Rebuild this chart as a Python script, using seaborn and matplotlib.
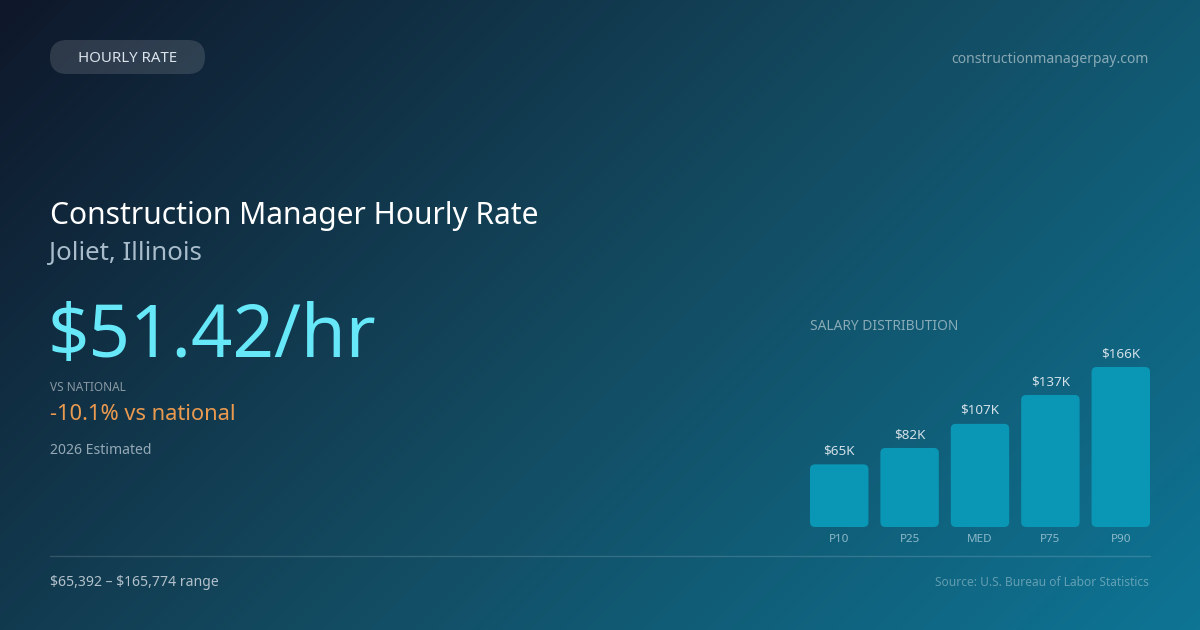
import numpy as np
import pandas as pd
import matplotlib
matplotlib.use("Agg")
import matplotlib.pyplot as plt
from matplotlib.colors import LinearSegmentedColormap
from matplotlib.patches import FancyBboxPatch
import seaborn as sns

# data
percentiles = ["P10", "P25", "MED", "P75", "P90"]
salary_k = [65, 82, 107, 137, 166]
hourly_rate = "$51.42/hr"
vs_national = "-10.1% vs national"
range_text = "$65,392 \u2013 $165,774 range"

sns.set_theme(style="white")
plt.rcParams["font.family"] = ["Noto Sans", "DejaVu Sans"]

W, H = 1200, 630
fig = plt.figure(figsize=(12, 6.3), dpi=100)

# background axes in pixel units
bg = fig.add_axes([0, 0, 1, 1])
bg.set_xlim(0, W)
bg.set_ylim(H, 0)
bg.axis("off")

# 135deg gradient
cmap = LinearSegmentedColormap.from_list("bg", [(0, "#0f172a"), (0.5, "#134a60"), (1, "#0e7595")])
xx, yy = np.meshgrid(np.arange(W), np.arange(H))
t = ((xx - W / 2) * 0.7071 + (yy - H / 2) * 0.7071) / ((W + H) * 0.7071) + 0.5
bg.imshow(t, cmap=cmap, extent=(0, W, H, 0), aspect="auto", vmin=0, vmax=1, zorder=0)

# pill
pill = FancyBboxPatch((50, 40), 155, 34, boxstyle="round,pad=0,rounding_size=17",
                      fc="white", alpha=0.13, ec="none", zorder=1)
bg.add_patch(pill)
bg.text(127.5, 62, "HOURLY RATE", color="#dbe4ec", fontsize=10.8, ha="center",
        va="baseline", zorder=2)
bg.text(1149, 63, "constructionmanagerpay.com", color="white", alpha=0.5,
        fontsize=10.05, ha="right", va="baseline")

# left text block
bg.text(50, 224, "Construction Manager Hourly Rate", color="white", fontsize=21.6,
        va="baseline")
bg.text(49, 260, "Joliet, Illinois", color="#a8bccb", fontsize=18.6, va="baseline")
bg.text(48, 357, hourly_rate, color="#67e8f9", fontsize=52.2, va="baseline")
bg.text(50, 391, "VS NATIONAL", color="white", alpha=0.5, fontsize=8.5, va="baseline")
bg.text(50, 420, vs_national, color="#ea9a4f", fontsize=15.7, va="baseline")
bg.text(50, 454, "2026 Estimated", color="#94a8b5", fontsize=10.1, va="baseline")

# footer
bg.plot([50, 1150], [556, 556], color="white", alpha=0.15, lw=1)
bg.text(50, 586, range_text, color="#b2c1cb", fontsize=10.1, va="baseline",
        parse_math=False)
bg.text(1149, 585.5, "Source: U.S. Bureau of Labor Statistics", color="white",
        alpha=0.35, fontsize=8.6, ha="right", va="baseline")

bg.text(810, 330, "SALARY DISTRIBUTION", color="white", alpha=0.5, fontsize=9.9,
        va="baseline")

# bar chart
ax = fig.add_axes([810 / W, (H - 527) / H, 340 / W, 160 / H])
df = pd.DataFrame({"pct": percentiles, "salary": salary_k})
sns.barplot(data=df, x="pct", y="salary", color="#0a97b5", width=0.83,
            saturation=1, ax=ax)
ax.set_xlim(-0.415, 4.415)
ax.set_ylim(0, 166)
ax.patch.set_alpha(0)
for s in ax.spines.values():
    s.set_visible(False)
ax.set_xlabel("")
ax.set_ylabel("")
ax.set_yticks([])
ax.tick_params(axis="x", length=0, pad=5, labelsize=8.4, labelcolor="#8cb9c9")

ax.bar_label(ax.containers[0], labels=[f"${v}K" for v in salary_k],
             padding=5, color="#d3e0e7", fontsize=9.7)

# rounded corners
x_per_px = (4.415 + 0.415) / 340
y_per_px = 166 / 160
r = 5 * x_per_px
asp = y_per_px / x_per_px
for p in list(ax.patches):
    x0, w, h = p.get_x(), p.get_width(), p.get_height()
    p.set_visible(False)
    ax.add_patch(FancyBboxPatch((x0, 0), w, h, boxstyle=f"round,pad=0,rounding_size={r}",
                                mutation_aspect=asp, fc="#0a97b5", ec="none", zorder=2))

fig.savefig("out.png", dpi=100)
